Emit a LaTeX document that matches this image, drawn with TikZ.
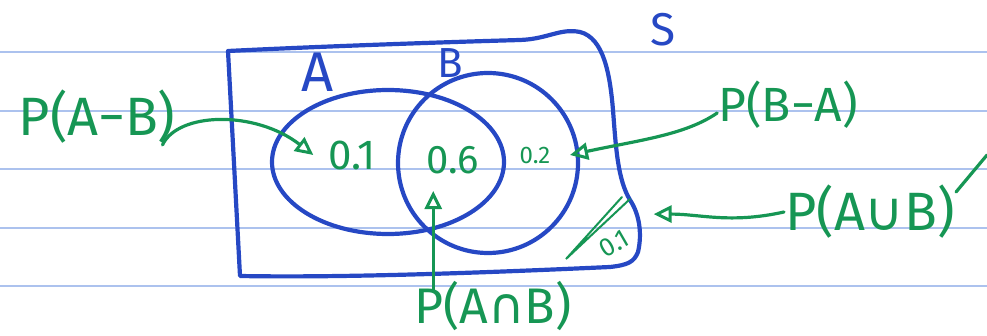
\documentclass[tikz,border=0pt]{standalone}
\usepackage{fontspec}
\setmainfont{Fira Sans}
\newfontfamily\opsfont{DejaVu Sans}
\usepackage{tikz}
\usetikzlibrary{arrows.meta}
\definecolor{inkblue}{RGB}{38,72,196}
\definecolor{inkgreen}{RGB}{22,150,84}
\definecolor{ruleblue}{RGB}{172,194,238}
\newcommand{\inksize}[1]{\fontsize{#1}{#1}\selectfont}
\tikzset{
  ruleline/.style  = {draw=ruleblue, line width=1.4pt},
  setline/.style   = {draw=inkblue, line width=4.2pt, line join=round, line cap=round},
  setlbl/.style    = {text=inkblue, inner sep=1pt},
  problbl/.style   = {text=inkgreen, inner sep=1pt, font=\inksize{54}},
  valnum/.style    = {text=inkgreen, inner sep=1pt},
  probarrow/.style = {-{Triangle[open, length=18pt, width=17pt, line width=3pt]},
                      draw=inkgreen, line width=3.2pt, line cap=round},
  hatchline/.style = {draw=inkgreen, line width=2pt, line cap=round}
}

\begin{document}
\begin{tikzpicture}[x=1pt, y=-1pt]
  \useasboundingbox (0,0) rectangle (987,336);
  % Ruled paper
  \foreach \ry in {52,111,169,228,286}
    \draw[ruleline] (0,\ry) -- (987,\ry);
  % Sample space S
  \draw[setline] (228,51) .. controls (330,46) and (450,42) .. (520,40)
    .. controls (548,39) and (560,28) .. (580,32)
    .. controls (604,38) and (610,75) .. (613,110)
    .. controls (616,150) and (618,180) .. (630,200)
    .. controls (640,215) and (642,235) .. (638,252)
    .. controls (634,262) and (628,265) .. (610,267)
    .. controls (500,272) and (350,278) .. (240,276) -- cycle;
  % Events A and B
  \draw[setline] (388,162) ellipse [x radius=116, y radius=72];
  \draw[setline] (488,163) ellipse [x radius=90, y radius=90];
  % Set names
  \node[setlbl, font=\inksize{56}] (lblA) at (318,72) {A};
  \node[setlbl, font=\inksize{42}] (lblB) at (450,63) {B};
  \node[setlbl, font=\inksize{46}] (lblS) at (663,30) {S};
  % Region values
  \node[valnum, font=\inksize{42}] (vamb) at (352,155) {0.1};
  \node[valnum, font=\inksize{40}] (vab)  at (453,160) {0.6};
  \node[valnum, font=\inksize{24}] (vbma) at (535,155) {0.2};
  \node[valnum, font=\inksize{26}, rotate=30] (vout) at (614,244) {0.1};
  \draw[hatchline] (622,197) -- (566,259) -- (630,199);
  % Probability labels
  \node[problbl] (pamb) at (97,117) {P(A−B)};
  \node[problbl, font=\inksize{48}] (pbma) at (788,105) {P(B−A)};
  \node[problbl] (paub) at (870,212) {P(A{\opsfont∪}B)};
  \node[problbl, font=\inksize{50}] (pab)  at (493,306) {P(A{\opsfont∩}B)};
  % Arrows
  \draw[probarrow] ([xshift=-14pt]pamb.south east) .. controls (178,112) and (255,110) .. ([xshift=-14pt]vamb.west);
  \draw[probarrow] ([yshift=-8pt]pbma.west) .. controls (685,135) and (640,140) .. ([xshift=-4pt]vbma.east -| 574,0);
  \draw[probarrow] (paub.west) .. controls (730,224) and (700,214) .. ([xshift=26pt,yshift=22pt]vout.east);
  \draw[probarrow] ([xshift=20pt,yshift=-10pt]pab.north west) -- ([xshift=20pt,yshift=-16pt]pab.north west |- vab.south);
  \draw[probarrow, -] ([yshift=20pt]paub.east) -- (987,155);
\end{tikzpicture}
\end{document}
